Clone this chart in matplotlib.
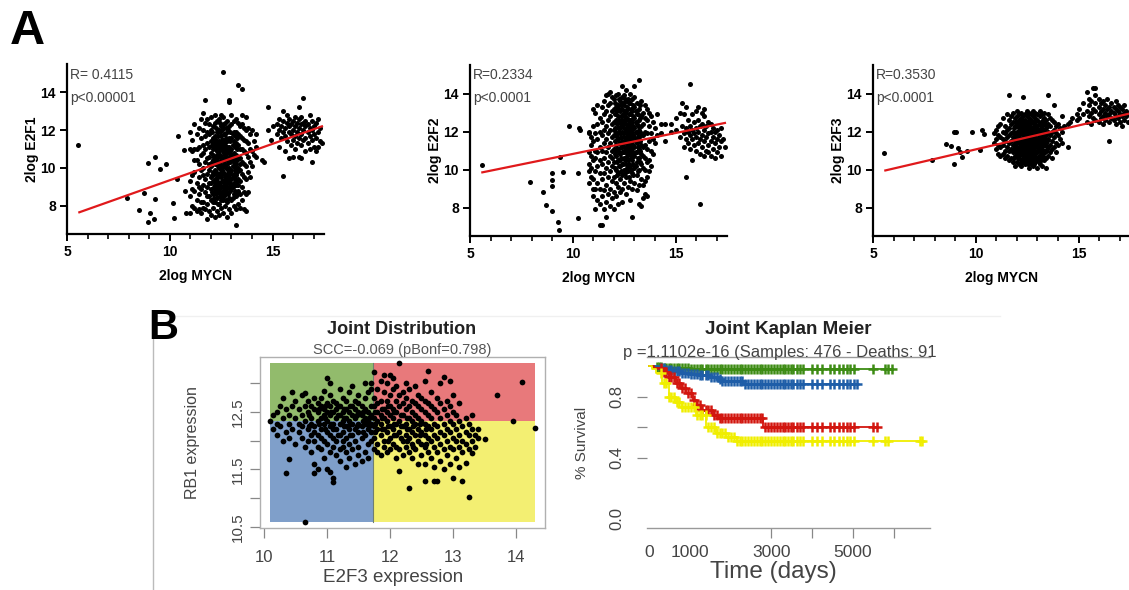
import numpy as np
import matplotlib
matplotlib.use('Agg')
import matplotlib.pyplot as plt
from matplotlib.patches import Rectangle

plt.rcParams['font.family'] = ['Liberation Sans', 'DejaVu Sans']

# ---------------- panel A data: 2log MYCN vs 2log E2F1/2/3 ----------------
# columns: MYCN value -> E2F values
e2f1_cols = {
    11.0: "7.6 8.5 9.3 11.0 11.9", 11.1: "8.0 8.9 9.6 10.9 11.5",
    11.2: "7.9 8.8 9.8 10.4 11.0 12.3", 11.3: "7.7 8.3 9.2 10.4 11.0 11.8",
    11.4: "7.8 8.6 9.0 9.5 10.2 11.1 12.1", 11.5: "7.6 8.2 8.9 9.9 10.7 11.6 12.6",
    11.6: "7.9 8.2 9.1 9.6 10.0 10.8 11.2 12.0 12.9",
    11.7: "7.8 8.7 9.4 10.3 11.0 11.7 12.4 13.6",
    11.8: "7.3 8.1 9.0 9.7 10.5 11.3 11.9 12.6 8.5",
    11.9: "7.7 8.5 9.2 9.9 10.6 11.1 11.8 12.3 10.2",
    12.0: "7.5 8.3 8.9 9.5 10.1 10.8 11.4 12.0 12.7 9.2",
    12.1: "7.9 8.6 9.3 9.8 10.4 11.0 11.6 12.2 8.2 10.7",
    12.2: "7.4 8.2 8.8 9.4 9.9 10.5 11.1 11.7 12.4 12.8 9.1 10.2",
    12.3: "7.7 8.4 9.0 9.6 10.2 10.7 11.3 11.9 12.5 8.7 9.3 10.9",
    12.4: "7.5 8.1 8.7 9.2 9.7 10.3 10.9 11.4 12.0 12.6 8.9 10.0 11.1",
    12.5: "7.9 8.5 9.0 9.5 10.0 10.6 11.2 11.7 12.2 12.8 8.3 9.8 10.4",
    12.6: "7.6 8.3 8.8 9.3 9.8 10.4 10.9 11.5 12.1 12.7 15.1 9.0 10.1 11.2",
    12.7: "8.0 8.6 9.1 9.6 10.1 10.7 11.3 11.8 12.4 8.8 9.4 10.4 11.0",
    12.8: "7.4 8.2 8.7 9.2 9.7 10.2 10.8 11.4 11.9 12.5 9.0 10.5 11.1",
    12.9: "7.8 8.4 9.0 9.5 10.0 10.5 11.1 11.6 12.2 13.5 13.6 9.7 10.8",
    13.0: "7.6 8.3 8.9 9.4 9.9 10.4 11.0 11.6 12.3 12.8 9.1 10.7",
    13.1: "8.0 8.6 9.2 9.7 10.3 10.8 11.4 11.9 12.5 9.5 10.5",
    13.2: "7.0 7.8 8.5 9.1 9.6 10.2 10.7 11.3 11.9 12.6 10.0",
    13.3: "8.1 8.8 9.4 10.0 10.6 11.2 11.8 12.4 14.4 9.1",
    13.4: "7.9 8.6 9.3 9.9 10.5 11.0 11.7 12.2 10.2",
    13.5: "8.3 9.0 9.7 10.3 11.0 11.6 12.3 12.8 14.2",
    13.6: "7.8 8.7 9.5 10.2 10.9 11.5 12.1",
    13.7: "7.7 8.6 9.4 10.1 10.8 11.4 12.0 12.7",
    13.8: "8.7 9.8 10.6 11.3 12.1", 13.9: "9.5 10.3 11.0 11.8",
    14.0: "10.1 10.9 12.0", 14.1: "10.7 11.4", 14.2: "10.6 11.1 11.8",
    14.5: "10.4", 14.6: "10.3", 14.8: "12.0 13.2", 14.9: "11.5", 15.0: "12.2",
    15.2: "11.8 12.3", 15.3: "11.1 12.0 12.6", 15.4: "11.6 12.2",
    15.5: "9.55 11.9 12.5 13.0", 15.6: "10.9 11.7 12.1", 15.7: "11.4 12.4 12.8",
    15.8: "10.5 11.9 12.2 12.6", 15.9: "11.2 11.8 12.3", 16.0: "10.6 11.5 12.0 12.5",
    16.1: "11.0 11.7 12.2 12.7", 16.2: "11.3 11.9 12.4", 16.3: "10.6 11.6 12.1 12.6 13.2",
    16.4: "10.5 11.2 11.8 12.3 12.7", 16.5: "11.5 12.0 12.4 13.7", 16.6: "10.9 11.6 12.2 12.5",
    16.7: "11.3 11.9 12.3", 16.8: "11.0 11.7 12.1 12.8", 16.9: "10.3 11.5 12.0 12.5",
    17.0: "11.1 11.8 12.2", 17.1: "10.9 11.6 12.4", 17.2: "11.1 11.9 12.6",
    17.3: "11.4 12.1", 17.4: "11.3",
}
# dense core of the E2F1 cloud
e2f1_core = {
    12.05: "8.7 9.6 10.3 11.2 11.9", 12.15: "8.4 9.0 9.7 10.6 11.3",
    12.25: "8.6 9.2 9.8 10.4 11.0 11.5 12.1", 12.35: "8.1 8.9 9.5 10.1 10.6 11.2 11.7",
    12.45: "8.5 9.1 9.6 10.2 10.7 11.3 11.9 12.4", 12.55: "8.7 9.3 9.9 10.5 11.0 11.5 12.0",
    12.65: "8.5 9.2 9.7 10.2 10.8 11.3 11.8 12.3", 12.75: "8.3 8.9 9.5 10.0 10.6 11.1 11.6 12.1",
    12.85: "8.6 9.3 9.9 10.4 10.9 11.5 12.0", 12.95: "8.8 9.2 9.8 10.3 10.9 11.4 11.9",
    13.05: "8.4 9.0 9.6 10.1 10.6 11.2 11.8", 13.15: "8.8 9.4 9.9 10.5 11.1 11.7",
    13.25: "8.6 9.3 9.8 10.4 11.0 11.6",
}
e2f1_out_x = [5.55, 7.90, 8.51, 8.74, 8.95, 8.95, 9.03, 9.22, 9.27, 9.29, 9.51, 9.81,
              10.16, 10.18, 10.35, 10.40, 10.68, 10.74, 10.81]
e2f1_out_y = [11.21, 8.38, 7.77, 8.69, 10.24, 7.14, 7.63, 7.32, 8.34, 10.56, 9.96, 10.23,
              8.16, 7.37, 9.40, 11.69, 10.93, 8.78, 7.63]

e2f2_cols = {
    10.8: "9.3 9.9 10.3 10.9 11.9 12.0", 10.9: "9.6 10.1 10.7 11.3 11.7",
    11.0: "8.6 9.0 9.5 10.5 11.5 12.3 13.2", 11.1: "7.9 9.0 9.9 10.6 11.0 11.9 13.0",
    11.2: "8.4 9.3 10.2 10.9 11.6 12.4 13.4", 11.3: "7.1 8.2 9.0 9.8 10.5 11.2 12.0 12.7",
    11.4: "7.1 8.6 9.5 10.3 11.0 11.8 12.5 13.3", 11.5: "7.9 8.9 9.8 10.6 11.4 12.1 12.9 13.6",
    11.6: "7.5 8.3 9.2 10.1 10.9 11.6 12.3 13.1 13.9",
    11.7: "8.7 9.6 10.4 11.2 11.9 12.6 13.4 14.0",
    11.8: "8.1 9.0 9.9 10.7 11.4 12.1 12.8 13.5 14.1",
    11.9: "8.5 9.4 10.2 11.0 11.7 12.4 13.1 13.8 10.6",
    12.0: "7.9 8.8 9.6 10.4 11.1 11.8 12.5 13.2 13.7 12.1",
    12.1: "8.6 9.3 10.0 10.7 11.3 11.9 12.6 13.3 13.9 11.0",
    12.2: "8.2 9.1 9.8 10.5 11.1 11.6 12.2 12.8 13.4 14.0 11.9",
    12.3: "8.8 9.5 10.2 10.8 11.4 11.9 12.5 13.1 13.6 12.2 10.5",
    12.4: "8.3 9.0 9.7 10.3 10.9 11.5 12.0 12.6 13.2 13.8 14.4 11.2",
    12.5: "9.3 10.0 10.6 11.2 11.7 12.2 12.8 13.4 13.9 10.9 12.5",
    12.6: "8.7 9.6 10.3 10.9 11.4 11.9 12.4 13.0 13.6 14.2 11.1",
    12.7: "9.1 9.9 10.5 11.1 11.6 12.1 12.6 13.2 13.7 10.2 11.8",
    12.8: "8.4 9.4 10.2 10.8 11.3 11.8 12.3 12.9 13.5 14.0 12.6",
    12.9: "7.5 9.0 9.8 10.5 11.0 11.5 12.0 12.5 13.1 13.7 11.3",
    13.0: "9.3 10.1 10.7 11.2 11.7 12.2 12.7 13.3 13.8 14.4",
    13.1: "8.9 9.7 10.4 10.9 11.4 11.9 12.4 12.9 13.5 11.6",
    13.2: "8.2 9.2 10.0 10.6 11.1 11.6 12.1 12.6 13.2 14.7",
    13.3: "8.1 9.5 10.3 10.8 11.3 11.8 12.3 12.8 13.6",
    13.4: "8.5 9.2 10.1 10.7 11.2 11.8 12.4 13.0",
    13.5: "8.7 9.4 10.0 10.6 11.3 12.0 12.7 13.4",
    13.6: "8.6 9.6 10.4 11.1 11.9 12.6 13.2", 13.7: "9.9 10.5 11.5 12.3 13.0",
    13.8: "10.2 11.0 11.9 12.8", 13.9: "10.8 11.6 12.5", 14.0: "11.4 12.2",
    14.1: "11.8 12.9", 14.3: "11.9 12.4", 14.5: "11.5 12.4", 14.8: "12.0 12.4",
    15.0: "12.1 12.7", 15.2: "11.7 13.0", 15.3: "12.3 13.5", 15.4: "11.2 11.9 12.9",
    15.5: "9.6 11.6 12.2 13.3", 15.6: "11.4 12.0 12.6", 15.7: "11.1 11.8 12.3 14.5",
    15.8: "10.5 11.6 12.1 12.9", 15.9: "11.3 11.9 12.5", 16.0: "11.0 11.7 12.2 13.1",
    16.1: "11.4 12.0 12.6 13.3", 16.2: "8.2 10.8 11.6 12.3", 16.3: "11.2 11.8 12.4 13.0",
    16.4: "10.7 11.5 12.1 12.8 13.2", 16.5: "11.0 11.7 12.3", 16.6: "10.9 11.3 11.9 12.5",
    16.7: "10.7 11.5 12.0 12.4", 16.8: "11.1 11.7 12.2", 16.9: "10.6 11.4 12.0",
    17.0: "10.9 11.6 12.1", 17.1: "11.2 11.8", 17.2: "10.7 11.5 12.2", 17.3: "11.6",
    17.4: "11.2",
}
e2f2_core = {
    12.05: "10.1 10.8 11.5 12.2 12.9 13.5", 12.15: "9.7 10.4 11.1 11.7 12.4 13.1",
    12.25: "10.2 10.9 11.4 12.0 12.6 13.2 13.7", 12.35: "9.9 10.6 11.2 11.7 12.3 12.8 13.4",
    12.45: "10.3 10.9 11.4 11.9 12.4 12.9 13.5", 12.55: "9.8 10.5 11.0 11.5 12.0 12.6 13.1 13.7",
    12.65: "10.1 10.7 11.2 11.7 12.2 12.7 13.3", 12.75: "9.6 10.3 10.9 11.4 11.9 12.4 12.9 13.5",
    12.85: "10.0 10.6 11.1 11.6 12.1 12.6 13.2", 12.95: "9.7 10.3 10.8 11.3 11.8 12.3 12.8 13.4",
    13.05: "10.2 10.9 11.5 12.0 12.5 13.1", 13.15: "9.9 10.6 11.2 11.7 12.3 12.9",
    13.25: "10.4 11.0 11.5 12.0 12.7 13.4",
}
e2f2_out_x = [5.57, 7.91, 8.53, 8.72, 8.97, 8.97, 8.97, 8.97, 9.26, 9.32, 9.37, 9.50,
              9.82, 10.23, 10.26, 10.30, 10.35]
e2f2_out_y = [10.26, 9.34, 8.81, 8.11, 9.84, 9.43, 9.13, 7.79, 7.23, 6.84, 10.67, 9.87,
              12.31, 9.84, 7.46, 12.2, 12.1]

e2f3_cols = {
    10.9: "11.4 11.9", 11.0: "11.1 11.6 12.1", 11.1: "10.8 11.3 11.8 12.3",
    11.2: "10.7 11.2 11.7 12.4", 11.3: "10.8 11.3 11.6 12.0 12.7",
    11.4: "10.6 11.0 11.5 11.9 12.3", 11.5: "10.7 11.2 11.7 12.1 12.9",
    11.6: "10.5 11.0 11.4 11.8 12.2 12.6 13.9", 11.7: "10.6 11.1 11.5 11.9 12.4 12.8",
    11.8: "10.4 10.9 11.3 11.7 12.0 12.5 13.0",
    11.9: "10.2 10.7 11.1 11.5 11.9 12.3 12.7 11.3",
    12.0: "10.4 10.8 11.2 11.6 12.0 12.4 12.8 13.1 11.0",
    12.1: "10.3 10.6 11.0 11.4 11.8 12.2 12.6 12.9 11.6",
    12.2: "10.2 10.5 10.9 11.3 11.6 12.0 12.3 12.7 13.0 11.1",
    12.3: "10.4 10.7 11.1 11.5 11.8 12.1 12.5 12.8 13.8 11.3",
    12.4: "10.3 10.6 11.0 11.3 11.7 12.0 12.3 12.6 12.9 11.5 10.8",
    12.5: "10.5 10.8 11.2 11.5 11.9 12.2 12.5 12.8 13.1 11.0 11.7",
    12.6: "10.1 10.4 10.7 11.0 11.4 11.7 12.0 12.4 12.7 13.0 11.2",
    12.7: "10.3 10.6 10.9 11.3 11.6 11.9 12.2 12.6 12.9 11.1 11.8",
    12.8: "10.2 10.5 10.8 11.1 11.5 11.8 12.1 12.5 12.8 13.1 11.3",
    12.9: "10.4 10.7 11.0 11.4 11.7 12.0 12.4 12.7 13.0 11.2 11.5",
    13.0: "10.1 10.5 10.9 11.2 11.6 11.9 12.3 12.6 12.9 11.4",
    13.1: "10.3 10.6 11.0 11.3 11.7 12.1 12.4 12.8 13.1 11.5",
    13.2: "10.2 10.8 11.1 11.5 11.8 12.2 12.5 12.9 11.3",
    13.3: "10.5 10.9 11.3 11.7 12.0 12.4 12.7 13.0",
    13.4: "10.1 10.6 11.0 11.4 11.8 12.2 12.6",
    13.5: "10.7 11.2 11.6 12.0 12.4 12.9 13.9", 13.6: "10.9 11.3 11.8 12.3 12.7",
    13.7: "10.6 11.1 11.5 12.0 12.6", 13.8: "11.2 11.7 12.1 12.5 13.4",
    13.9: "10.9 11.4 11.9 12.3", 14.0: "11.3 11.8 12.4", 14.1: "11.6 12.2",
    14.2: "11.4 12.0 12.8", 14.3: "12.3", 14.5: "11.2 12.4", 14.6: "12.5", 14.7: "12.7",
    14.9: "12.6 12.9",
    15.0: "12.7 13.2", 15.2: "12.9 13.5", 15.4: "12.5 13.1 14.1", 15.5: "12.8 13.4 13.7",
    15.6: "12.4 13.0 13.6", 15.7: "12.7 13.2 14.3", 15.8: "12.6 13.1 13.5 13.9 14.3",
    16.0: "12.5 12.9 13.3 13.7", 16.1: "12.7 13.1 13.5", 16.2: "12.4 12.8 13.2 13.6",
    16.3: "12.6 13.0 13.4", 16.4: "12.8 13.2 13.7", 16.5: "11.5 12.5 12.9 13.3",
    16.6: "12.7 13.1 13.5", 16.7: "12.6 13.0 13.3", 16.8: "12.4 12.8 13.2 13.6",
    16.9: "12.7 13.1 13.4", 17.0: "12.5 12.9 13.3", 17.1: "12.3 12.8 13.2",
    17.2: "12.6 13.0 13.4", 17.3: "12.8 13.1", 17.4: "12.5 12.9",
}
e2f3_core = {
    11.85: "10.6 11.1 11.6 12.2", 11.95: "10.9 11.4 11.8 12.5",
    12.05: "10.6 11.0 11.5 11.9 12.3", 12.15: "10.8 11.2 11.6 12.1 12.5",
    12.25: "10.4 10.8 11.2 11.5 11.9 12.2 12.6", 12.35: "10.6 10.9 11.3 11.6 12.0 12.4",
    12.45: "10.5 10.9 11.2 11.6 11.9 12.2 12.5", 12.55: "10.3 10.7 11.0 11.4 11.7 12.1 12.4",
    12.65: "10.6 10.9 11.3 11.6 11.9 12.3 12.6", 12.75: "10.4 10.8 11.1 11.5 11.8 12.1 12.5",
    12.85: "10.3 10.7 11.0 11.3 11.7 12.0 12.3", 12.95: "10.6 10.9 11.3 11.6 11.9 12.2 12.6",
    13.05: "10.4 10.7 11.1 11.5 11.8 12.1 12.5", 13.15: "10.5 10.9 11.2 11.6 12.0 12.3",
    13.25: "10.7 11.0 11.4 11.7 12.1 12.6", 13.35: "10.9 11.3 11.6 12.0 12.4",
    13.45: "11.1 11.5 11.9 12.3",
}
e2f3_out_x = [5.55, 7.88, 8.53, 8.77, 8.95, 9.06, 8.95, 9.14, 9.22, 9.31, 9.55, 9.82,
              10.19, 10.32, 10.40]
e2f3_out_y = [10.88, 10.49, 11.34, 11.25, 12.0, 12.0, 10.31, 11.14, 10.93, 10.67, 10.97,
              12.0, 11.02, 12.08, 11.85]

# red regression lines (end points)
fit_mycn = [[5.6, 17.4], [5.6, 17.4], [5.6, 17.5]]
fit_e2f = [[7.65, 12.2], [9.85, 12.45], [9.95, 12.95]]
r_labels = ["R= 0.4115", "R=0.2334", "R=0.3530"]
p_labels = ["p<0.00001", "p<0.0001", "p<0.0001"]
gene_labels = ["2log E2F1", "2log E2F2", "2log E2F3"]

# ---------------- panel B data: joint distribution E2F3 / RB1 ----------------
joint_cols = {
    10.10: "12.34", 10.15: "12.2 12.45", 10.20: "12.1 12.5 12.3", 10.25: "12.25 12.6",
    10.30: "12.0 12.4 12.75", 10.35: "11.44 12.15 12.55", 10.40: "11.68 12.3 12.45 12.05",
    10.45: "12.2 12.6 12.85", 10.50: "11.95 12.4 12.7", 10.55: "12.15 12.55 12.3",
    10.60: "12.8 12.05 12.45 12.25", 10.65: "10.59 11.9 12.35 12.6 12.83",
    10.70: "12.2 12.5 12.7 12.0", 10.75: "11.8 12.1 12.4 12.6 12.3",
    10.80: "11.44 11.6 12.0 12.25 12.55 12.75 12.15", 10.85: "11.5 12.1 12.35 12.5 12.65 11.9",
    10.90: "11.85 12.2 12.4 12.6 12.75 12.05", 10.95: "11.7 12.0 12.3 12.45 12.55 12.87",
    11.00: "11.5 11.95 12.15 12.35 12.5 12.65 13.1",
    11.05: "11.45 11.8 12.1 12.25 12.45 12.6 13.0 12.8",
    11.10: "11.28 11.35 11.9 12.05 12.3 12.5 12.7 12.2",
    11.15: "11.75 12.0 12.2 12.4 12.55 12.65", 11.20: "11.65 11.85 12.1 12.3 12.45 12.6 12.9",
    11.25: "11.9 12.15 12.35 12.5 12.75 12.0", 11.30: "11.55 11.8 12.05 12.25 12.4 12.55 12.7",
    11.35: "11.7 11.95 12.2 12.35 12.5 12.85", 11.40: "11.85 12.1 12.3 12.45 12.6 12.95",
    11.45: "11.6 12.0 12.2 12.4 12.55 12.7", 11.50: "11.75 11.9 12.15 12.3 12.5 12.65 12.8",
    11.55: "11.65 12.05 12.25 12.45 12.6", 11.60: "11.8 12.1 12.3 12.4 12.55 12.75 13.0",
    11.65: "11.7 11.95 12.2 12.35 12.5 12.85", 11.70: "12.0 12.15 12.3 12.45 12.6 12.9 13.0",
    11.75: "11.85 12.05 12.25 12.4 12.6 12.75 13.2",
    11.80: "11.8 11.95 12.2 12.35 12.5 12.65 12.9", 11.85: "11.75 12.1 12.3 12.45 12.7 13.05",
    11.90: "11.9 12.0 12.2 12.4 12.55 12.85 13.15", 11.95: "11.8 12.15 12.35 12.5 12.7 13.0",
    12.00: "11.85 12.05 12.25 12.45 12.6 12.8 13.15", 12.05: "11.95 12.2 12.4 12.55 12.9 13.1",
    12.10: "11.7 11.9 12.1 12.3 12.5 12.7 12.95",
    12.15: "11.47 11.85 12.15 12.35 12.6 12.8 13.36",
    12.20: "11.75 12.0 12.25 12.45 12.65 12.85", 12.25: "11.9 12.1 12.3 12.55 12.75 13.0",
    12.30: "11.17 11.8 12.05 12.2 12.4 12.6 12.9", 12.35: "11.7 11.95 12.15 12.35 12.5 12.7",
    12.40: "11.85 12.1 12.3 12.45 12.65 12.95", 12.45: "11.6 12.0 12.2 12.4 12.6 12.8",
    12.50: "11.75 11.95 12.15 12.35 12.55 12.75",
    12.55: "11.3 11.6 11.9 12.1 12.3 12.5 12.7 13.05",
    12.60: "11.8 12.05 12.25 12.45 12.65 13.22", 12.65: "11.7 12.0 12.2 12.4 12.6 12.85",
    12.70: "11.3 11.55 11.9 12.1 12.3 12.55", 12.75: "11.3 11.8 12.05 12.25 12.5 12.75",
    12.80: "11.65 11.95 12.15 12.4 12.65 13.0", 12.85: "11.5 11.85 12.1 12.3 12.55 13.11",
    12.90: "11.75 12.0 12.2 12.45 12.7", 12.95: "11.6 11.9 12.15 12.35 12.6 13.05",
    13.00: "11.35 11.85 12.05 12.3 12.5 12.8", 13.05: "11.7 12.0 12.2 12.45",
    13.10: "11.55 11.9 12.1 12.35 12.65", 13.15: "11.3 11.8 12.0 12.25",
    13.20: "11.62 11.95 12.15 12.4", 13.25: "11.02 11.85 12.1 12.3",
    13.30: "11.79 12.0 12.2 12.45", 13.35: "11.9 12.1", 13.40: "12.2 12.05",
    13.50: "12.03", 13.70: "12.79", 13.95: "12.35", 14.10: "13.02", 14.30: "12.23",
}
joint_core = {
    10.72: "12.25 12.45", 10.87: "12.3 12.55", 10.97: "12.2 12.4 12.6", 11.07: "12.3 12.5",
    11.17: "12.1 12.45 12.6", 11.27: "12.25 12.4 12.55", 11.37: "12.1 12.3 12.6",
    11.47: "12.25 12.45", 11.57: "12.15 12.35 12.5", 11.67: "12.25 12.4",
    11.77: "12.15 12.3 12.5", 11.87: "12.2 12.4 12.55", 11.97: "12.0 12.25 12.6",
    12.07: "12.1 12.3 12.5", 12.17: "12.05 12.25 12.45", 12.27: "12.0 12.2 12.4",
    12.37: "11.9 12.25", 12.47: "12.1 12.3", 12.57: "11.95 12.2",
}
e2f3_cut = 11.73
rb1_cut = 12.34
quad_colors = {"ll": "#7f9fca", "ul": "#92bb6c", "ur": "#e8797b", "lr": "#f3ef72"}

# ---------------- panel B data: joint Kaplan Meier ----------------
green_t = [0, 150, 350, 600, 1000, 1400]
green_s = [1.0, 0.996, 0.992, 0.988, 0.986, 0.984]
blue_t = [0, 250, 400, 570, 800, 1000, 1230, 1500, 1720, 1800, 2300]
blue_s = [1.0, 0.99, 0.98, 0.97, 0.96, 0.95, 0.944, 0.932, 0.92, 0.905, 0.885]
red_t = [0, 120, 330, 480, 650, 780, 900, 1070, 1170, 1270, 1560, 1680, 2800]
red_s = [1.0, 0.99, 0.966, 0.93, 0.89, 0.86, 0.826, 0.78, 0.75, 0.715, 0.682, 0.662, 0.603]
yellow_t = [0, 80, 160, 330, 490, 650, 820, 1150, 1390, 1640, 1890, 2150]
yellow_s = [1.0, 0.985, 0.957, 0.89, 0.80, 0.77, 0.737, 0.682, 0.605, 0.562, 0.538, 0.51]
km_end = [5960, 5100, 5590, 6690]
km_dense_from = [200, 300, 300, 300]
km_colors = ["#3d8c14", "#1f5ea8", "#d2160f", "#f0ee00"]
censor_dense = [200, 250, 300, 365, 420, 490, 545, 610, 690, 745, 820, 885, 960, 1025,
                1100, 1175, 1240, 1305, 1385, 1450, 1515, 1590, 1665, 1730, 1800, 1865,
                1945, 2010, 2080, 2150, 2225, 2290, 2360, 2430, 2505, 2570, 2640, 2715,
                2780, 2850, 2925, 2990, 3060, 3130, 3200, 3275, 3340, 3410, 3480]
censor_tail = [3537, 3619, 3701, 3782, 3987, 4110, 4232, 4436, 4534, 4665, 4763, 4845,
               4926, 5025, 5498, 5784, 5866, 6642]


def cols_to_xy(*col_dicts):
    xs, ys = [], []
    for cols in col_dicts:
        for x, s in cols.items():
            for v in s.split():
                xs.append(x)
                ys.append(float(v))
    return np.array(xs), np.array(ys)


W, H = 1129, 590
fig = plt.figure(figsize=(W / 100, H / 100), dpi=100)


def ax_px(l, t, r, b):
    return fig.add_axes([l / W, 1 - b / H, (r - l) / W, (b - t) / H])


def ft(x, y, s, **kw):
    return fig.text(x / W, 1 - y / H, s, **kw)


# ---------------- panel A ----------------
a_boxes = [(67, 64, 324, 234), (470, 65, 727, 236), (873, 65, 1130, 236)]
a_cols = [(e2f1_cols, e2f1_core), (e2f2_cols, e2f2_core), (e2f3_cols, e2f3_core)]
a_out = [(e2f1_out_x, e2f1_out_y), (e2f2_out_x, e2f2_out_y), (e2f3_out_x, e2f3_out_y)]
for i in range(3):
    ax = ax_px(*a_boxes[i])
    x, y = cols_to_xy(*a_cols[i])
    x = np.concatenate([x, a_out[i][0]])
    y = np.concatenate([y, a_out[i][1]])
    ax.scatter(x, y, s=13, c='black', linewidths=0, zorder=2)
    ax.plot(fit_mycn[i], fit_e2f[i], color='#e0191b', lw=1.6, zorder=3)
    ax.set_xlim(5, 17.5)
    ax.set_ylim(6.5, 15.5)
    ax.set_xticks([5, 10, 15])
    ax.set_xticks(np.arange(6, 18), minor=True)
    ax.set_yticks([8, 10, 12, 14])
    for s in ['top', 'right']:
        ax.spines[s].set_visible(False)
    for s in ['left', 'bottom']:
        ax.spines[s].set_linewidth(1.6)
    ax.tick_params(which='major', length=5, width=1.4, labelsize=10, pad=3)
    ax.tick_params(which='minor', length=3.5, width=1.2)
    for lab in ax.get_xticklabels() + ax.get_yticklabels():
        lab.set_fontweight('bold')
    ax.set_xlabel("2log MYCN", fontsize=10, fontweight='bold', labelpad=7)
    ax.set_ylabel(gene_labels[i], fontsize=10, fontweight='bold', labelpad=1)
    l = a_boxes[i][0]
    ft(l + 3, 75, r_labels[i], fontsize=10, color='#444444', va='center')
    ft(l + 3, 98, p_labels[i], fontsize=10, color='#444444', va='center')

ft(10, 31, "A", fontsize=35, fontweight='bold', va='center')
ft(148, 328, "B", fontsize=30, fontweight='bold', va='center')

# thin frame of panel B
fig.add_artist(plt.Line2D([153 / W, 153 / W], [1 - 318 / H, 0], color='#bbbbbb', lw=1))
fig.add_artist(plt.Line2D([153 / W, 1000 / W], [1 - 316 / H, 1 - 316 / H], color='#f0f0f0', lw=1))

# ---------------- joint distribution ----------------
axj = ax_px(260, 357, 545, 528)
jx, jy = cols_to_xy(joint_cols, joint_core)
x0, x1, y0, y1 = jx.min(), jx.max(), jy.min(), jy.max()
axj.add_patch(Rectangle((x0, y0), e2f3_cut - x0, rb1_cut - y0, color=quad_colors["ll"], lw=0))
axj.add_patch(Rectangle((x0, rb1_cut), e2f3_cut - x0, y1 - rb1_cut, color=quad_colors["ul"], lw=0))
axj.add_patch(Rectangle((e2f3_cut, rb1_cut), x1 - e2f3_cut, y1 - rb1_cut, color=quad_colors["ur"], lw=0))
axj.add_patch(Rectangle((e2f3_cut, y0), x1 - e2f3_cut, rb1_cut - y0, color=quad_colors["lr"], lw=0))
axj.plot([e2f3_cut, e2f3_cut], [y0, y1], color='#6f7f70', lw=0.8)
axj.scatter(jx, jy, s=17, c='black', linewidths=0, zorder=3)
axj.set_xlim(9.937, 14.46)
axj.set_ylim(10.48, 13.46)
axj.set_xticks([10, 11, 12, 13, 14])
axj.set_yticks([10.5, 11.5, 12.5])
axj.set_yticks([11.0, 12.0, 13.0], minor=True)
for s in axj.spines.values():
    s.set_color('#b0b0b0')
    s.set_linewidth(1)
axj.tick_params(which='both', length=7, color='#888888', width=0.9)
axj.tick_params(axis='x', labelsize=12, labelcolor='#444444', pad=9)
axj.tick_params(axis='y', labelsize=11, labelcolor='#444444', pad=4)
for lab in axj.get_yticklabels():
    lab.set_rotation(90)
    lab.set_va('center')
ft(402, 329, "Joint Distribution", fontsize=13, fontweight='bold', ha='center', va='center', color='#222222')
ft(402, 350, "SCC=-0.069 (pBonf=0.798)", fontsize=10.5, ha='center', va='center', color='#555555')
ft(193, 443, "RB1 expression", fontsize=11.5, rotation=90, ha='center', va='center', color='#444444')
ft(393, 578, "E2F3 expression", fontsize=13.5, ha='center', va='center', color='#444444')

# ---------------- Kaplan Meier ----------------
axk = ax_px(647, 357, 930, 528)
km_t = [green_t, blue_t, red_t, yellow_t]
km_s = [green_s, blue_s, red_s, yellow_s]
for i in range(4):
    t = np.array(km_t[i] + [km_end[i]], dtype=float)
    s = np.array(km_s[i] + [km_s[i][-1]])
    axk.step(t, s, where='post', color=km_colors[i], lw=1.3, zorder=2)
    cens = np.array([c for c in censor_dense + censor_tail
                     if km_dense_from[i] <= c <= km_end[i]] + [km_end[i]], dtype=float)
    idx = np.searchsorted(t, cens, side='right') - 1
    axk.plot(cens, s[idx], ls='none', marker='+', ms=6.5, mew=1.8, color=km_colors[i], zorder=2)
axk.set_xlim(-49, 6887)
axk.set_ylim(-0.059, 1.062)
axk.set_xticks([0, 1000, 3000, 5000])
axk.set_xticks([4000, 6000], minor=True)
axk.set_yticks([0.0, 0.4, 0.8])
axk.set_yticks([0.6], minor=True)
axk.tick_params(which='both', length=7, color='#888888', width=0.9)
axk.tick_params(axis='x', labelsize=12.5, labelcolor='#444444', pad=5)
axk.tick_params(axis='y', labelsize=12, labelcolor='#444444', pad=9)
# R skipped the tick marks at these positions
for tk in axk.xaxis.get_major_ticks()[:2] + axk.yaxis.get_major_ticks()[:1]:
    tk.tick1line.set_visible(False)
for lab in axk.get_yticklabels():
    lab.set_rotation(90)
    lab.set_va('center')
for s in ['left', 'right']:
    axk.spines[s].set_visible(False)
for s in ['top', 'bottom']:
    axk.spines[s].set_color('#999999')
    axk.spines[s].set_linewidth(1)
ft(788, 330, "Joint Kaplan Meier", fontsize=13.5, fontweight='bold', ha='center', va='center', color='#222222')
ft(623, 352, "p =1.1102e-16 (Samples: 476 - Deaths: 91", fontsize=12, ha='left', va='center', color='#444444')
ft(582, 443, "% Survival", fontsize=11, rotation=90, ha='center', va='center', color='#444444')
ft(773, 572, "Time (days)", fontsize=17.5, ha='center', va='center', color='#444444')

fig.savefig("out.png", dpi=100)
